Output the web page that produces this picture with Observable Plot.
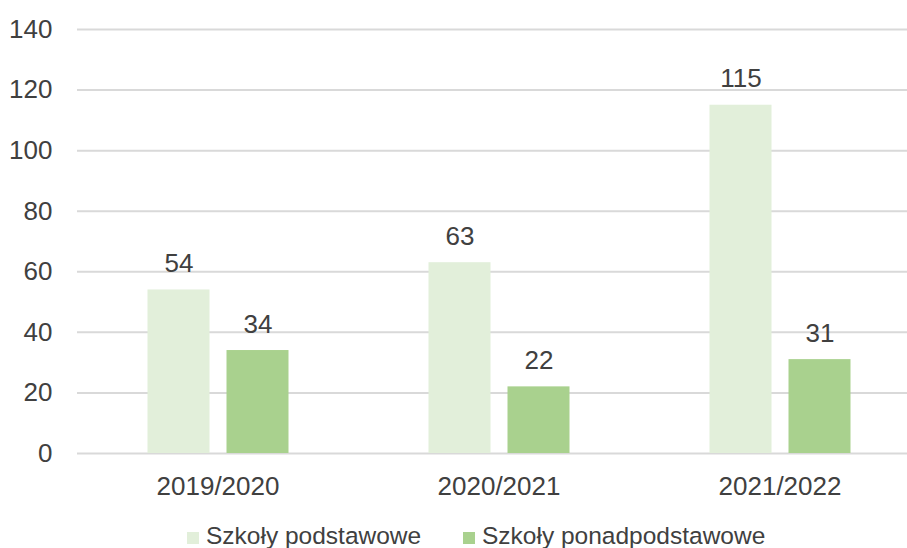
<!DOCTYPE html>
<html>
<head>
<meta charset="utf-8">
<script src="https://cdn.jsdelivr.net/npm/d3@7"></script>
<script src="https://cdn.jsdelivr.net/npm/@observablehq/plot@0.6"></script>
<style>
  html, body { margin: 0; padding: 0; background: #fff; overflow: hidden; }
  body { width: 907px; height: 548px; font-family: "Liberation Sans", Arial, sans-serif; color: #404040; position: relative; }
  #chart svg { overflow: visible; }
  .legend { position: relative; height: 30px; font-size: 24.5px; line-height: 25px; margin-top: 18px; color: #404040; }
  .legend .item { position: absolute; top: 0; display: flex; align-items: baseline; white-space: nowrap; }
  .legend .sw { display: inline-block; width: 12px; height: 12px; margin-right: 7px; }
</style>
</head>
<body>
<div id="chart"></div>
<script>
const years = ["2019/2020", "2020/2021", "2021/2022"];
const seriesNames = ["Szkoły podstawowe", "Szkoły ponadpodstawowe"];
const podstawowe = [54, 63, 115];
const ponadpodstawowe = [34, 22, 31];
const colors = ["#E2EFDA", "#A9D18E"];
const yTicks = [0, 20, 40, 60, 80, 100, 120, 140];

const table = [];
years.forEach((y, i) => {
  table.push({year: y, series: seriesNames[0], value: podstawowe[i]});
  table.push({year: y, series: seriesNames[1], value: ponadpodstawowe[i]});
});

const font = "Liberation Sans, Arial, sans-serif";

const chart = Plot.plot({
  width: 907,
  height: 505,
  marginTop: 29,
  marginBottom: 52,
  marginLeft: 76.5,
  marginRight: -12.5,
  style: {fontFamily: font, fontSize: "26px", color: "#404040", background: "#fff", overflow: "visible"},
  fx: {domain: years, padding: 0, axis: "bottom", tickSize: 0, tickPadding: 23, label: null},
  x: {domain: seriesNames, axis: null, paddingInner: 0.21875, paddingOuter: 0.868},
  y: {domain: [0, 140], ticks: yTicks, label: null, tickSize: 0, tickPadding: 25, tickFormat: d => String(d)},
  color: {domain: seriesNames, range: colors},
  marks: [
    Plot.gridY(yTicks, {stroke: "#d9d9d9", strokeOpacity: 1, strokeWidth: 2}),
    Plot.barY(table, {fx: "year", x: "series", y: "value", fill: "series"}),
    Plot.text(table, {fx: "year", x: "series", y: "value", text: d => String(d.value), lineAnchor: "bottom", dy: -18, fill: "#404040", fontSize: 26})
  ]
});
document.getElementById("chart").appendChild(chart);

const legendLeft = [187, 463];
const legend = d3.select("body").append("div").attr("class", "legend");
seriesNames.forEach((s, i) => {
  const it = legend.append("div").attr("class", "item").style("left", legendLeft[i] + "px");
  it.append("span").attr("class", "sw").style("background", colors[i]);
  it.append("span").text(s);
});
</script>
</body>
</html>
